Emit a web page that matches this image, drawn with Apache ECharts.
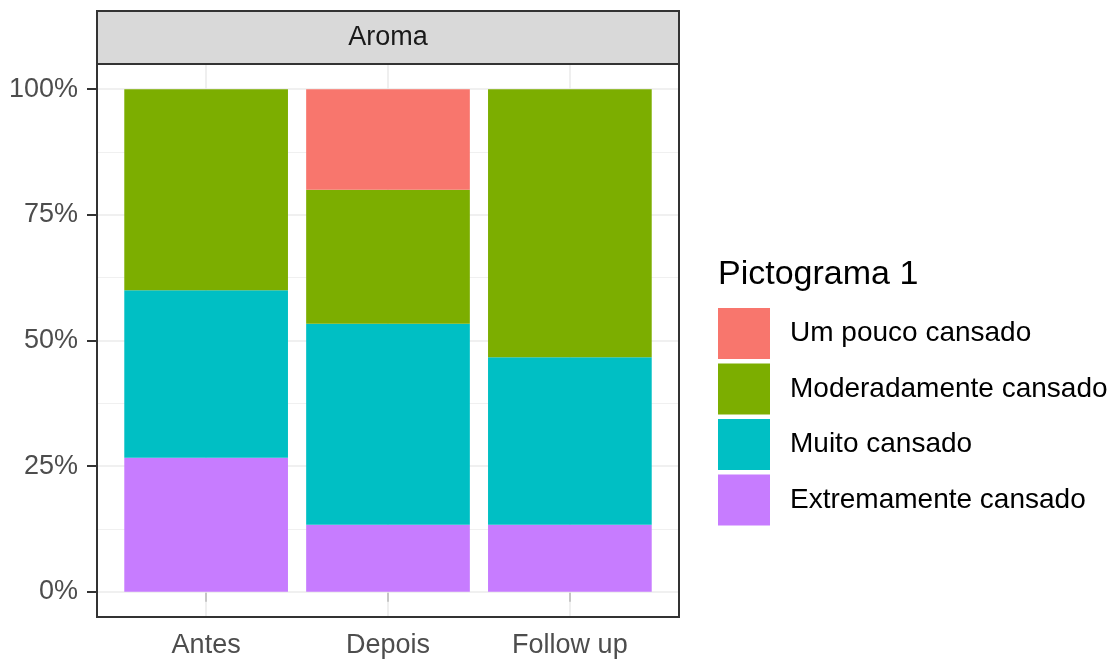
<!DOCTYPE html>
<html>
<head>
<meta charset="utf-8">
<script src="https://cdn.jsdelivr.net/npm/echarts@6/dist/echarts.min.js"></script>
<style>
html,body{margin:0;padding:0;background:#fff;}
#chart{width:1116px;height:661px;}
</style>
</head>
<body>
<div id="chart"></div>
<script>
// ---- data ----
const categories = ['Antes', 'Depois', 'Follow up'];
const seriesNames = ['Extremamente cansado', 'Muito cansado', 'Moderadamente cansado', 'Um pouco cansado'];
const extremamente = [26.67, 13.33, 13.33];
const muito = [33.33, 40.0, 33.33];
const moderadamente = [40.0, 26.67, 53.33];
const umPouco = [0, 20.0, 0];
const yTicks = [0, 25, 50, 75, 100];
const yMinorTicks = [12.5, 37.5, 62.5, 87.5];
const xPositions = [1, 2, 3];
const facetLabel = 'Aroma';
const legendTitle = 'Pictograma 1';

// ---- layout / style ----
const colors = {
  'Um pouco cansado': '#F8766D',
  'Moderadamente cansado': '#7CAE00',
  'Muito cansado': '#00BFC4',
  'Extremamente cansado': '#C77CFF'
};
const W = 1116, H = 661;
const G = { left: 97, top: 64, right: 679, bottom: 617 };
const STRIP_TOP = 11;
const FONT = "'Liberation Sans', Arial, sans-serif";
const FS = 27;
const LEGEND_FS = 28;
// ggplot discrete expansion: 0.6 units each side -> 3.2 units over the panel
const UNIT = (G.right - G.left) / 3.2;

const values = [extremamente, muito, moderadamente, umPouco];

const gridLines = [];
yTicks.forEach(v => gridLines.push({ yAxis: v, lineStyle: { color: '#ebebeb', width: 1.6, type: 'solid' } }));
yMinorTicks.forEach(v => gridLines.push({ yAxis: v, lineStyle: { color: '#f0f0f0', width: 1, type: 'solid' } }));
xPositions.forEach(v => gridLines.push({ xAxis: v, lineStyle: { color: '#ebebeb', width: 1.6, type: 'solid' } }));

const series = [{
  name: '__grid__',
  type: 'line',
  xAxisIndex: 0, yAxisIndex: 0,
  data: [],
  silent: true,
  markLine: {
    silent: true,
    z: 1,
    symbol: ['none', 'none'],
    label: { show: false },
    emphasis: { disabled: true },
    animation: false,
    data: gridLines
  }
}];
seriesNames.forEach((name, i) => {
  series.push({
    name: name,
    type: 'bar',
    stack: 'total',
    xAxisIndex: 1, yAxisIndex: 1,
    barWidth: '90%',
    z: 2,
    itemStyle: { color: colors[name] },
    emphasis: { disabled: true },
    data: values[i]
  });
});

const chart = echarts.init(document.getElementById('chart'), null, { renderer: 'canvas' });
chart.setOption({
  animation: false,
  backgroundColor: '#ffffff',
  textStyle: { fontFamily: FONT },
  grid: [
    { left: G.left, top: G.top, right: W - G.right, bottom: H - G.bottom, containLabel: false, show: false },
    { left: G.left + 0.1 * UNIT, top: G.top, right: W - G.right + 0.1 * UNIT, bottom: H - G.bottom, containLabel: false, show: false }
  ],
  xAxis: [{
    type: 'value', gridIndex: 0,
    min: 0.4, max: 3.6,
    axisLine: { show: false },
    splitLine: { show: false },
    axisTick: { show: true, customValues: xPositions, length: 10, lineStyle: { color: '#333333', width: 2 } },
    axisLabel: {
      customValues: xPositions,
      formatter: v => categories[Math.round(v) - 1],
      color: '#4d4d4d', fontSize: FS, fontFamily: FONT, margin: 15
    }
  }, {
    type: 'category', gridIndex: 1,
    data: categories,
    boundaryGap: true,
    show: false
  }],
  yAxis: [{
    type: 'value', gridIndex: 0,
    min: -5, max: 105,
    axisLine: { show: false },
    splitLine: { show: false },
    axisTick: { show: true, customValues: yTicks, length: 10, lineStyle: { color: '#333333', width: 2 } },
    axisLabel: {
      customValues: yTicks,
      formatter: v => v + '%',
      color: '#4d4d4d', fontSize: FS, fontFamily: FONT, margin: 19
    }
  }, {
    type: 'value', gridIndex: 1,
    min: -5, max: 105,
    show: false
  }],
  legend: {
    orient: 'vertical',
    left: 718, top: 308,
    padding: 0,
    itemWidth: 52, itemHeight: 51, itemGap: 4.5,
    icon: 'rect',
    selectedMode: false,
    data: ['Um pouco cansado', 'Moderadamente cansado', 'Muito cansado', 'Extremamente cansado'],
    textStyle: { fontSize: LEGEND_FS, color: '#000000', fontFamily: FONT, padding: [0, 0, 0, 15] }
  },
  graphic: [
    {
      type: 'rect', z: 100, silent: true,
      shape: { x: G.left, y: STRIP_TOP, width: G.right - G.left, height: G.top - STRIP_TOP },
      style: { fill: '#d9d9d9', stroke: '#333333', lineWidth: 2 }
    },
    {
      type: 'text', z: 101, silent: true,
      x: (G.left + G.right) / 2, y: (STRIP_TOP + G.top) / 2,
      style: { text: facetLabel, fill: '#1a1a1a', font: FS + 'px ' + FONT, align: 'center', verticalAlign: 'middle' }
    },
    {
      type: 'rect', z: 100, silent: true,
      shape: { x: G.left, y: G.top, width: G.right - G.left, height: G.bottom - G.top },
      style: { fill: 'none', stroke: '#333333', lineWidth: 2 }
    },
    {
      type: 'text', z: 101, silent: true,
      x: 718, y: 275,
      style: { text: legendTitle, fill: '#000000', font: '34px ' + FONT, align: 'left', verticalAlign: 'middle' }
    }
  ],
  series: series
});
</script>
</body>
</html>
